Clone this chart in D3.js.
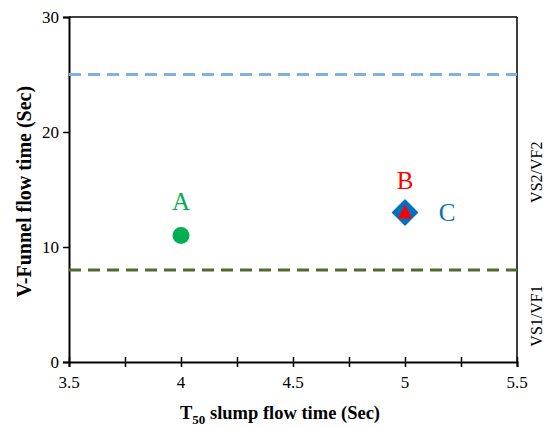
<!DOCTYPE html>
<html>
<head>
<meta charset="utf-8">
<script src="https://cdn.jsdelivr.net/npm/d3@7"></script>
<style>
  body { margin: 0; background: #fff; }
  svg text { font-family: "Liberation Serif", "Times New Roman", serif !important; }
</style>
</head>
<body>
<div id="chart"></div>
<script>
// data
var mixNames = ["A", "B", "C"];
var t50Values = [4, 5, 5];
var vfunnelValues = [11, 13, 13];
var mixColors = ["#00b050", "#ff0000", "#0070c0"];
var limitValues = [25, 8];
var limitColors = ["#7fb2e0", "#4f6b2f"];
var classNames = ["VS2/VF2", "VS1/VF1"];
var classMid = [16.5, 4];
var xTicks = [3.5, 4, 4.5, 5, 5.5];
var yTicks = [0, 10, 20, 30];

var margin = {top: 17, right: 30, bottom: 66, left: 69},
    width = 547 - margin.left - margin.right,
    height = 428 - margin.top - margin.bottom;

var svg = d3.select("#chart")
  .append("svg")
  .attr("width", 547)
  .attr("height", 428)
  .attr("font-family", "Liberation Serif")
  .append("g")
  .attr("transform", "translate(" + margin.left + "," + margin.top + ")");

var x = d3.scaleLinear().domain([3.5, 5.5]).range([0, width]);
var y = d3.scaleLinear().domain([0, 30]).range([height, 0]);

// frame top and right
svg.append("line")
  .attr("x1", 0).attr("x2", width).attr("y1", 0).attr("y2", 0)
  .attr("stroke", "#000").attr("stroke-width", 1.5);
svg.append("line")
  .attr("x1", width).attr("x2", width).attr("y1", 0).attr("y2", height)
  .attr("stroke", "#000").attr("stroke-width", 1.5);

// x axis with minor ticks crossing the line
var xAxis = svg.append("g")
  .attr("transform", "translate(0," + height + ")")
  .call(d3.axisBottom(x).tickValues(d3.range(3.5, 5.51, 0.25)).tickSize(5).tickFormat(""));
xAxis.selectAll(".tick line").attr("y1", -5).attr("stroke-width", 1.5);
xAxis.select(".domain").attr("stroke-width", 2);
svg.append("g")
  .attr("transform", "translate(0," + height + ")")
  .selectAll("text")
  .data(xTicks)
  .enter()
  .append("text")
  .attr("x", function(d) { return x(d); })
  .attr("y", 26)
  .attr("text-anchor", "middle")
  .style("font-size", "17px")
  .text(function(d) { return d; });

var yAxis = svg.append("g")
  .call(d3.axisLeft(y).tickValues(yTicks).tickSize(6).tickPadding(4));
yAxis.attr("font-family", "Liberation Serif");
yAxis.selectAll("text").style("font-size", "17px");
yAxis.selectAll(".tick line").attr("stroke-width", 1.5);
yAxis.select(".domain").attr("stroke-width", 2);

// limit lines
svg.selectAll(".limit")
  .data(limitValues)
  .enter()
  .append("line")
  .attr("x1", 0).attr("x2", width)
  .attr("y1", function(d) { return y(d); })
  .attr("y2", function(d) { return y(d); })
  .attr("stroke", function(d, i) { return limitColors[i]; })
  .attr("stroke-width", 3)
  .attr("stroke-dasharray", "12,7");

// class labels on the right
svg.selectAll(".cls")
  .data(classNames)
  .enter()
  .append("text")
  .attr("transform", function(d, i) { return "translate(" + (width + 25) + "," + y(classMid[i]) + ") rotate(-90)"; })
  .attr("text-anchor", "middle")
  .style("font-size", "16px")
  .text(function(d) { return d; });

// point A
svg.append("circle")
  .attr("cx", x(t50Values[0]))
  .attr("cy", y(vfunnelValues[0]))
  .attr("r", 8.5)
  .attr("fill", mixColors[0]);

// point C: diamond
svg.append("path")
  .attr("d", d3.symbol().type(d3.symbolSquare).size(360)())
  .attr("transform", "translate(" + x(t50Values[2]) + "," + y(vfunnelValues[2]) + ") rotate(45)")
  .attr("fill", mixColors[2]);

// point B: triangle
svg.append("path")
  .attr("d", "M0,-8L7,6L-7,6Z")
  .attr("transform", "translate(" + x(t50Values[1]) + "," + y(vfunnelValues[1]) + ")")
  .attr("fill", mixColors[1]);

// point labels
var labelDx = [0, 0, 42];
var labelDy = [-26, -24, 8];
svg.selectAll(".lbl")
  .data(mixNames)
  .enter()
  .append("text")
  .attr("x", function(d, i) { return x(t50Values[i]) + labelDx[i]; })
  .attr("y", function(d, i) { return y(vfunnelValues[i]) + labelDy[i]; })
  .attr("text-anchor", "middle")
  .attr("fill", function(d, i) { return mixColors[i]; })
  .style("font-size", "25px")
  .text(function(d) { return d; });

// axis titles
var xt = svg.append("text")
  .attr("x", 211)
  .attr("y", height + 57)
  .attr("text-anchor", "middle")
  .style("font-size", "18.5px")
  .style("font-weight", "bold");
xt.append("tspan").text("T");
xt.append("tspan").attr("dy", 5).style("font-size", "13px").text("50");
xt.append("tspan").attr("dy", -5).text(" slump flow time (Sec)");

svg.append("text")
  .attr("transform", "translate(-38," + (y(15) + 2) + ") rotate(-90)")
  .attr("text-anchor", "middle")
  .style("font-size", "20px")
  .style("font-weight", "bold")
  .text("V-Funnel flow time (Sec)");
</script>
</body>
</html>
